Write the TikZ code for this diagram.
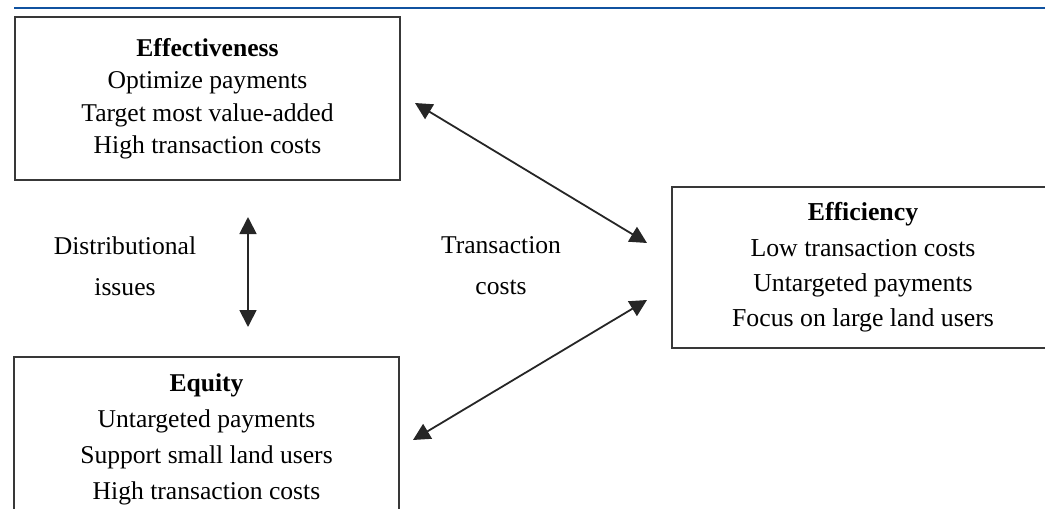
\documentclass[tikz,border=0pt]{standalone}
\usepackage{fontspec}
\setmainfont{Liberation Serif}
\usetikzlibrary{arrows.meta}
\definecolor{rulecol}{RGB}{16,82,160}
\begin{document}
\begin{tikzpicture}[x=1pt,y=-1pt,
  box/.style={draw=black!78, line width=1.7pt, inner sep=0pt, align=center,
    minimum width=385pt, minimum height=163pt},
  lbl/.style={align=center, inner sep=0pt, font=\fontsize{25.6}{40.5}\selectfont},
  dbl/.style={line width=1.8pt, draw=black!85,
    {Triangle[length=17pt,width=17pt]}-{Triangle[length=17pt,width=17pt]}}]
\useasboundingbox (0,0) rectangle (1045,509);
\clip (0,0) rectangle (1045,509);
\draw[rulecol, line width=2.8pt] (14,8) -- (1045,8);
\node[box, font=\fontsize{25.6}{32.5}\selectfont] (effect) at (207.5,98.5)
  {\textbf{Effectiveness}\\Optimize payments\\Target most value-added\\High transaction costs};
\node[box, font=\fontsize{25.8}{35.3}\selectfont, minimum width=382pt, minimum height=161pt] (effic) at (863,267.5)
  {\textbf{Efficiency}\\Low transaction costs\\Untargeted payments\\Focus on large land users};
\node[box, font=\fontsize{25.6}{36}\selectfont, minimum height=164pt] (equity) at (206.5,439)
  {\textbf{Equity}\\Untargeted payments\\Support small land users\\High transaction costs};
\node[lbl] (dist) at (125,266) {Distributional\\issues};
\node[lbl] (trans) at (501,265.5) {Transaction\\costs};
\coordinate (v1) at (248,217);
\coordinate (v2) at (248,327);
\coordinate (a1) at (415,103);
\coordinate (a2) at (647,243);
\coordinate (b1) at (413,440);
\coordinate (b2) at (647,300);
\draw[dbl] (v1) -- (v2);
\draw[dbl] (a1) -- (a2);
\draw[dbl] (b1) -- (b2);
\end{tikzpicture}
\end{document}
